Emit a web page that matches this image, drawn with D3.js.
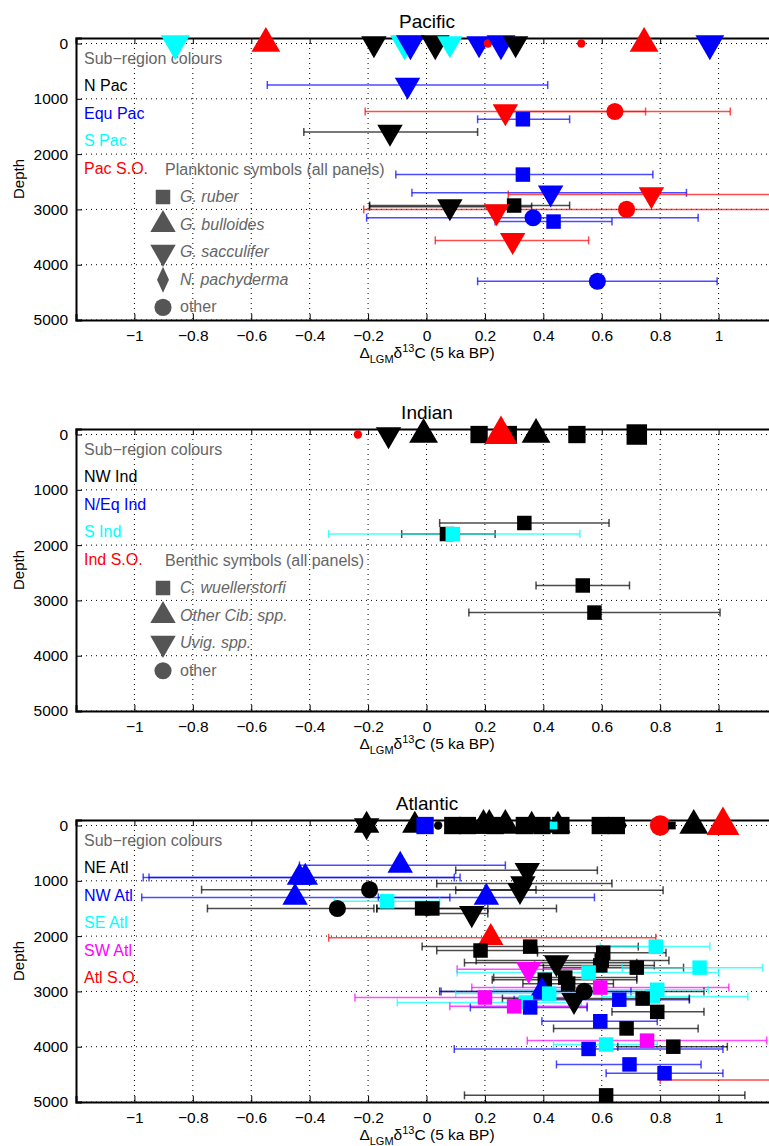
<!DOCTYPE html>
<html><head><meta charset="utf-8">
<script src="https://cdn.jsdelivr.net/npm/d3@7"></script>
<style>body{margin:0;background:#fff}svg{font-family:"Liberation Sans",Arial,sans-serif}</style>
</head><body><svg id="c" width="769" height="1146"></svg>
<script>
// record: [value, depth, errLo, errHi, subRegion, symbol, n]   (null err = no bar)
const xTicks = [-1,-0.8,-0.6,-0.4,-0.2,0,0.2,0.4,0.6,0.8,1];
const yTicks = [0,1000,2000,3000,4000,5000];

const pacRegions = ["N Pac","Equ Pac","S Pac","Pac S.O."];
const indRegions = ["NW Ind","N/Eq Ind","S Ind","Ind S.O."];
const atlRegions = ["NE Atl","NW Atl","SE Atl","SW Atl","Atl S.O."];

const pacSymbols = [["sq","G. ruber",true],["up","G. bulloides",true],["dn","G. sacculifer",true],["di","N. pachyderma",true],["ci","other",false]];
const indSymbols = [["sq","C. wuellerstorfi",true],["up","Other Cib. spp.",true],["dn","Uvig. spp.",true],["ci","other",false]];

const pacData = [
 [-0.86,0,null,null,2,"dn",3],[-0.55,0,null,null,3,"up",3],[-0.18,0,null,null,0,"dn",2],
 [-0.075,0,null,null,2,"dn",3],[-0.055,0,null,null,1,"dn",3],[0.03,0,null,null,0,"dn",3],
 [0.08,0,null,null,2,"dn",2],[0.18,0,null,null,1,"dn",2],[0.21,0,null,null,3,"ci",1],
 [0.255,0,null,null,1,"dn",3],[0.305,0,null,null,0,"dn",2],[0.53,0,null,null,3,"ci",1],
 [0.745,0,null,null,3,"up",3],[0.97,0,null,null,1,"dn",3],
 [-0.065,750,-0.545,0.415,1,"dn",2],
 [0.27,1230,-0.21,0.75,3,"dn",2],[0.645,1230,0.25,1.04,3,"ci",2],
 [0.33,1370,0.175,0.49,1,"sq",2],[-0.125,1600,-0.42,0.175,0,"dn",2],
 [0.33,2370,-0.105,0.775,1,"sq",2],[0.425,2700,-0.05,0.89,1,"dn",2],[0.77,2730,0.28,1.3,3,"dn",2],
 [0.08,2950,-0.195,0.36,0,"dn",2],[0.30,2930,-0.195,0.49,0,"sq",2],
 [0.685,3000,-0.215,1.3,3,"ci",2],[0.24,3040,null,null,3,"dn",2],
 [0.365,3150,-0.205,0.93,1,"ci",2],[0.435,3220,0.235,0.635,1,"sq",2],
 [0.295,3560,0.03,0.555,3,"dn",2],[0.585,4300,0.175,0.995,1,"ci",2]
];
const indData = [
 [-0.235,0,null,null,3,"ci",1],[-0.13,0,null,null,0,"dn",2],[-0.01,0,null,null,0,"up",3],
 [0.18,0,null,null,0,"sq",3],[0.28,0,null,null,0,"sq",3],[0.255,0,null,null,3,"up",4],
 [0.375,0,null,null,0,"up",3],[0.515,0,null,null,0,"sq",3],[0.72,0,null,null,0,"sq",4],
 [0.335,1600,0.045,0.625,0,"sq",2],[0.07,1800,-0.085,0.235,0,"sq",2],[0.09,1800,-0.335,0.525,2,"sq",2],
 [0.535,2730,0.375,0.695,0,"sq",2],[0.575,3220,0.145,1.005,0,"sq",2]
];
const atlData = [
 [-0.205,0,null,null,0,"di",3],[-0.205,0,null,null,0,"up",2],[-0.205,0,null,null,0,"dn",2],
 [-0.04,0,null,null,0,"up",2],[-0.005,0,null,null,1,"sq",3],[0.04,0,null,null,0,"ci",1],
 [0.09,0,null,null,0,"sq",3],[0.14,0,null,null,0,"sq",3],[0.195,0,null,null,0,"up",3],
 [0.215,0,null,null,0,"up",3],[0.235,0,null,null,0,"sq",3],[0.27,0,null,null,0,"up",3],
 [0.335,0,null,null,0,"sq",3],[0.36,0,null,null,0,"up",2],[0.395,0,null,null,0,"sq",3],
 [0.45,0,null,null,0,"up",2],[0.46,0,null,null,0,"sq",3],[0.435,0,null,null,2,"sq",1],
 [0.595,0,null,null,0,"sq",3],[0.65,0,null,null,0,"sq",3],[0.67,0,null,null,0,"ci",1],
 [0.80,0,null,null,4,"ci",3],[0.84,0,null,null,0,"sq",1],[0.915,0,null,null,0,"up",3],[1.015,0,null,null,4,"up",4],
 [-0.09,720,-0.435,0.27,1,"up",2],[0.345,810,0.10,0.585,0,"dn",2],
 [-0.435,940,-0.97,0.095,1,"up",2],[-0.415,940,-0.95,0.115,1,"up",2],
 [0.33,1050,0.035,0.635,0,"dn",2],[-0.195,1160,-0.77,0.375,0,"ci",2],[0.32,1170,0.10,0.81,0,"dn",2],
 [-0.45,1300,-0.975,0.08,1,"up",2],[0.205,1300,-0.165,0.575,1,"up",2],
 [-0.135,1370,-0.315,0.045,2,"sq",2],[-0.305,1500,-0.75,-0.18,0,"ci",2],
 [-0.015,1500,-0.17,0.445,0,"sq",2],[0.02,1500,-0.17,0.21,0,"sq",2],[0.155,1590,0.0,0.21,0,"dn",2],
 [0.22,2030,-0.335,0.785,4,"up",2],
 [0.355,2190,-0.015,0.725,0,"sq",2],[0.185,2260,0.035,0.38,0,"sq",2],[0.785,2190,0.595,0.97,2,"sq",2],
 [0.605,2300,0.38,0.82,0,"sq",2],[0.60,2440,0.17,0.83,0,"sq",2],[0.595,2530,0.37,0.78,0,"sq",2],
 [0.445,2480,0.13,0.72,0,"dn",2],[0.72,2570,0.40,0.88,0,"sq",2],[0.935,2570,0.67,1.15,2,"sq",2],
 [0.35,2600,0.105,0.605,3,"dn",2],[0.555,2660,0.105,1.0,2,"sq",2],
 [0.405,2790,0.225,0.72,0,"sq",2],[0.475,2750,0.23,0.72,0,"sq",2],[0.485,2860,0.33,0.64,0,"sq",2],
 [0.595,2930,0.155,1.035,3,"sq",2],[0.54,3000,0.045,0.95,0,"ci",2],[0.79,2970,0.23,0.965,2,"sq",2],
 [0.395,3000,0.05,0.7,1,"up",2],[0.42,3040,0.1,0.8,2,"sq",2],
 [0.20,3110,-0.245,0.53,3,"sq",2],[0.775,3090,0.6,1.1,2,"sq",2],[0.66,3150,0.3,0.9,1,"sq",2],
 [0.74,3130,0.26,0.9,0,"sq",2],[0.505,3160,null,null,0,"dn",2],[0.34,3200,-0.1,0.53,2,"sq",2],
 [0.30,3270,0.08,0.55,3,"sq",2],[0.355,3290,0.15,0.55,1,"sq",2],[0.79,3370,0.635,0.95,0,"sq",2],
 [0.595,3540,0.395,0.79,1,"sq",2],[0.685,3670,0.435,0.93,0,"sq",2],[0.755,3890,0.345,1.165,3,"sq",2],
 [0.615,3960,0.435,0.79,2,"sq",2],[0.845,4000,0.655,1.03,0,"sq",2],[0.555,4040,0.095,1.015,1,"sq",2],
 [0.695,4320,0.445,0.94,1,"sq",2],[0.815,4480,0.615,1.015,1,"sq",2],[1.5,4600,0.8,2.2,4,"sq",2],
 [0.615,4880,0.13,1.09,0,"sq",2]
];

const panels = [
 {title:"Pacific",data:pacData,regions:pacRegions,symTitle:"Planktonic symbols (all panels)",syms:pacSymbols,top:38},
 {title:"Indian",data:indData,regions:indRegions,symTitle:"Benthic symbols (all panels)",syms:indSymbols,top:429},
 {title:"Atlantic",data:atlData,regions:atlRegions,symTitle:null,syms:null,top:820}
];
const colorsByCount = {4:["#000","#0000ff","#00ffff","#ff0000"],5:["#000","#0000ff","#00ffff","#ff00ff","#ff0000"]};

const svg = d3.select("#c");
const x = d3.scaleLinear().domain([-1.2,1.2]).range([76,777]);
const areaSq = {1:60,2:210,3:300,4:420}, areaTri={1:80,2:280,3:360,4:470}, areaCi={1:55,2:230,3:330,4:420};
function symPath(s,n){
  if(s==="sq") return d3.symbol(d3.symbolSquare,areaSq[n])();
  if(s==="ci") return d3.symbol(d3.symbolCircle,areaCi[n])();
  if(s==="di") return "M0,-13L6,0L0,13L-6,0Z";
  return d3.symbol(d3.symbolTriangle,areaTri[n])();
}
function symTransform(s){return s==="dn"?" rotate(180)":"";}
const fmtX = d=>d===0?"0":(d<0?"\u2212":"")+String(Math.abs(d));

panels.forEach((p,pi)=>{
  const y = d3.scaleLinear().domain([-100,5000]).range([p.top,p.top+282]);
  const g = svg.append("g");
  const clipId="clip"+pi;
  svg.append("clipPath").attr("id",clipId).append("rect").attr("x",76).attr("y",p.top-30).attr("width",701).attr("height",312);
  g.selectAll(".gx").data(xTicks).join("line").attr("x1",d=>x(d)).attr("x2",d=>x(d)).attr("y1",p.top).attr("y2",y(5000))
    .attr("stroke","#000").attr("stroke-width",1).attr("stroke-dasharray","1,4");
  g.selectAll(".gy").data(yTicks).join("line").attr("x1",76).attr("x2",777).attr("y1",d=>y(d)).attr("y2",d=>y(d))
    .attr("stroke","#000").attr("stroke-width",1).attr("stroke-dasharray","1,4");
  const ax = g.append("g").attr("transform",`translate(0,${y(5000)})`).call(d3.axisBottom(x).tickValues(xTicks).tickSize(-6).tickPadding(10).tickFormat(fmtX));
  const axT = g.append("g").attr("transform",`translate(0,${p.top})`).call(d3.axisTop(x).tickValues(xTicks).tickSize(-6).tickFormat(""));
  const ay = g.append("g").attr("transform","translate(76,0)").call(d3.axisLeft(y).tickValues(yTicks).tickSize(-6).tickPadding(8).tickFormat(d3.format("d")));
  [ax,axT,ay].forEach(a=>{a.select(".domain").attr("stroke-width",2);a.selectAll("text").attr("font-size",15.5).attr("fill","#000").attr("font-family","Liberation Sans, Arial");});
  g.append("text").attr("x",427).attr("y",p.top-10).attr("text-anchor","middle").attr("font-size",19).text(p.title);
  g.append("text").attr("transform",`translate(24,${p.top+141}) rotate(-90)`).attr("text-anchor","middle").attr("font-size",15).text("Depth");
  const xl = g.append("text").attr("x",427).attr("y",y(5000)+38).attr("text-anchor","middle").attr("font-size",15.5);
  xl.append("tspan").text("\u0394");
  xl.append("tspan").attr("dy",5).attr("font-size",11).text("LGM");
  xl.append("tspan").attr("dy",-5).text("\u03b4");
  xl.append("tspan").attr("dy",-6).attr("font-size",11).text("13");
  xl.append("tspan").attr("dy",6).text("C (5 ka BP)");
  const cols = colorsByCount[p.regions.length];
  g.append("text").attr("x",84).attr("y",p.top+26).attr("font-size",16).attr("fill","#666").text("Sub\u2212region colours");
  p.regions.forEach((r,i)=>g.append("text").attr("x",84).attr("y",p.top+53+i*27.6).attr("font-size",16).attr("fill",cols[i]).text(r));
  if(p.syms){
    const ly = p.top+137;
    g.append("text").attr("x",165).attr("y",ly).attr("font-size",16).attr("fill","#666").text(p.symTitle);
    p.syms.forEach((s,i)=>{
      const yy = ly+22+i*27.6;
      g.append("path").attr("d",symPath(s[0],2)).attr("transform",`translate(163,${yy})${symTransform(s[0])}`).attr("fill","#555");
      g.append("text").attr("x",180).attr("y",yy+5).attr("font-size",16).attr("fill","#666").attr("font-style",s[2]?"italic":"normal").text(s[1]);
    });
  }
  const dg = g.append("g").attr("clip-path",`url(#${clipId})`);
  const withErr = p.data.filter(d=>d[2]!==null);
  const eb = dg.selectAll(".eb").data(withErr).join("g").attr("stroke",d=>cols[d[4]]).attr("stroke-width",1.5).attr("stroke-opacity",0.7);
  eb.append("line").attr("x1",d=>x(d[2])).attr("x2",d=>x(d[3])).attr("y1",d=>y(d[1])).attr("y2",d=>y(d[1]));
  eb.append("line").attr("x1",d=>x(d[2])).attr("x2",d=>x(d[2])).attr("y1",d=>y(d[1])-4).attr("y2",d=>y(d[1])+4);
  eb.append("line").attr("x1",d=>x(d[3])).attr("x2",d=>x(d[3])).attr("y1",d=>y(d[1])-4).attr("y2",d=>y(d[1])+4);
  dg.selectAll(".pt").data(p.data).join("path").attr("d",d=>symPath(d[5],d[6]))
    .attr("transform",d=>`translate(${x(d[0])},${y(d[1])})${symTransform(d[5])}`)
    .attr("fill",d=>cols[d[4]]);
});
</script></body></html>
